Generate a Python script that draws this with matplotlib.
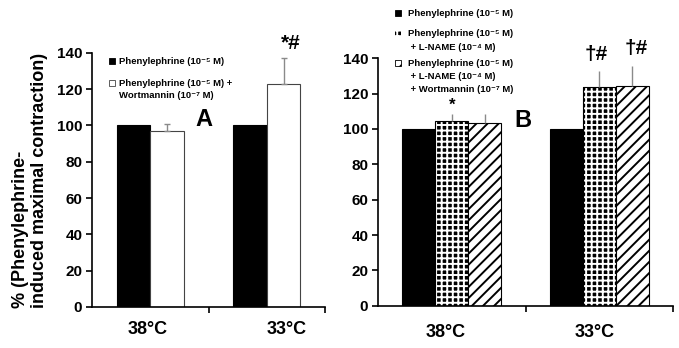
import numpy as np
import matplotlib
matplotlib.use("Agg")
import matplotlib.pyplot as plt
from matplotlib.patches import Rectangle

plt.rcParams["font.family"] = ["Liberation Sans", "DejaVu Sans"]
plt.rcParams["font.weight"] = "bold"
plt.rcParams["hatch.linewidth"] = 1.4

# ---- data ----
temps = ["38°C", "33°C"]

# panel A
pe_A = [100, 100]
pe_wort_A = [97, 123]
pe_wort_A_err = [4, 14]

# panel B
pe_B = [100, 100]
pe_lname_B = [104.5, 123.5]
pe_lname_B_err = [4, 9.5]
pe_lname_wort_B = [103.5, 124.5]
pe_lname_wort_B_err = [5, 11]

# legend lines
leg_A = [["Phenylephrine (10⁻⁵ M)"],
         ["Phenylephrine (10⁻⁵ M) +", "Wortmannin (10⁻⁷ M)"]]
leg_B = [["Phenylephrine (10⁻⁵ M)"],
         ["Phenylephrine (10⁻⁵ M)", " + L-NAME (10⁻⁴ M)"],
         ["Phenylephrine (10⁻⁵ M)", " + L-NAME (10⁻⁴ M)", " + Wortmannin (10⁻⁷ M)"]]

EBAR = "#8a8a8a"

fig = plt.figure(figsize=(6.79, 3.48), dpi=100)
axA = fig.add_axes([92 / 679, 41 / 348, 233 / 679, 254.3 / 348])
axB = fig.add_axes([378 / 679, 42.3 / 348, 295 / 679, 247.4 / 348])


def style_axis(ax, label_x, pad):
    for s in ("top", "right"):
        ax.spines[s].set_visible(False)
    for s in ("left", "bottom"):
        ax.spines[s].set_linewidth(1.2)
    ax.set_xlim(-0.5, 1.5)
    ax.set_ylim(0, 140)
    ax.set_yticks(np.arange(0, 141, 20))
    ax.tick_params(axis="y", direction="out", length=4, width=1.2, pad=3, labelsize=11)
    ax.set_xticks(label_x)
    ax.set_xticklabels(temps, fontsize=13, fontweight="bold")
    ax.tick_params(axis="x", which="major", length=0, pad=pad)
    ax.set_xticks([0.5, 1.5], minor=True)
    ax.tick_params(axis="x", which="minor", direction="out", length=4, width=1.2)
    for t in ax.get_yticklabels():
        t.set_fontweight("bold")


x = np.arange(len(temps))

# ---- panel A ----
wa = 0.288
axA.bar(x - wa / 2, pe_A, wa, color="black", edgecolor="black", linewidth=0.8)
axA.bar(x + wa / 2, pe_wort_A, wa, color="white", edgecolor="#444444", linewidth=0.8)
axA.errorbar(x + wa / 2, pe_wort_A, yerr=[np.zeros(2), pe_wort_A_err], fmt="none",
             ecolor=EBAR, elinewidth=1, capsize=2, capthick=1)
style_axis(axA, [-0.02, 1.17], 10)
axA.text(0.46, 103, "A", fontsize=17, fontweight="bold", ha="center", va="center")
axA.text(1.21, 140, "*#", fontsize=15, fontweight="bold", ha="center", va="bottom")

# ---- panel B ----
wb = 0.224
axB.bar(x - wb, pe_B, wb, color="black", edgecolor="black", linewidth=0.8)
axB.bar(x, pe_lname_B, wb, color="black", edgecolor="white", hatch="+++", linewidth=0)
axB.bar(x, pe_lname_B, wb, fill=False, edgecolor="black", linewidth=0.8)
axB.bar(x + wb, pe_lname_wort_B, wb, color="white", edgecolor="black", hatch="///", linewidth=0.8)
axB.errorbar(x, pe_lname_B, yerr=[np.zeros(2), pe_lname_B_err], fmt="none",
             ecolor=EBAR, elinewidth=1, capsize=0)
axB.errorbar(x + wb, pe_lname_wort_B, yerr=[np.zeros(2), pe_lname_wort_B_err], fmt="none",
             ecolor=EBAR, elinewidth=1, capsize=0)
style_axis(axB, [-0.044, 0.97], 13)
axB.text(0.485, 105, "B", fontsize=17, fontweight="bold", ha="center", va="center")
axB.text(0.0, 109, "*", fontsize=12, fontweight="bold", ha="center", va="bottom")
axB.text(0.98, 137, "†#", fontsize=15, fontweight="bold", ha="center", va="bottom")
axB.text(1.254, 140, "†#", fontsize=15, fontweight="bold", ha="center", va="bottom")

# ---- y label ----
fig.text(30 / 679, 1 - 308 / 348, "% (Phenylephrine-\ninduced maximal contraction)",
         rotation=90, ha="center", va="bottom", multialignment="left",
         fontsize=13, fontweight="bold", linespacing=1.15)

# ---- legends (drawn manually, line by line) ----
LFS = 6.8
SQ = 6


def swatch(px, py, **kw):
    fig.patches.append(Rectangle(((px - SQ / 2) / 679, 1 - (py + SQ / 2) / 348),
                                 SQ / 679, SQ / 348, transform=fig.transFigure, **kw))


def legend_entry(px, lines, centers):
    for s, cy in zip(lines, centers):
        fig.text(px / 679, 1 - (cy + 3.5) / 348, s, ha="left", va="baseline",
                 fontsize=LFS, fontweight="bold")


# panel A
swatch(112, 61, facecolor="black", edgecolor="black", linewidth=0.6)
legend_entry(119, leg_A[0], [61])
swatch(112, 83, facecolor="white", edgecolor="#444444", linewidth=0.6)
legend_entry(119, leg_A[1], [83, 95])

# panel B
swatch(398, 13, facecolor="black", edgecolor="black", linewidth=0.6)
legend_entry(408, leg_B[0], [13])
swatch(398, 33, facecolor="black", edgecolor="white", hatch="+++", linewidth=0)
legend_entry(408, leg_B[1], [33, 46])
swatch(398, 63, facecolor="white", edgecolor="black", hatch="///", linewidth=0.6)
legend_entry(408, leg_B[2], [63, 75.5, 88])

fig.savefig("out.png", dpi=100)
